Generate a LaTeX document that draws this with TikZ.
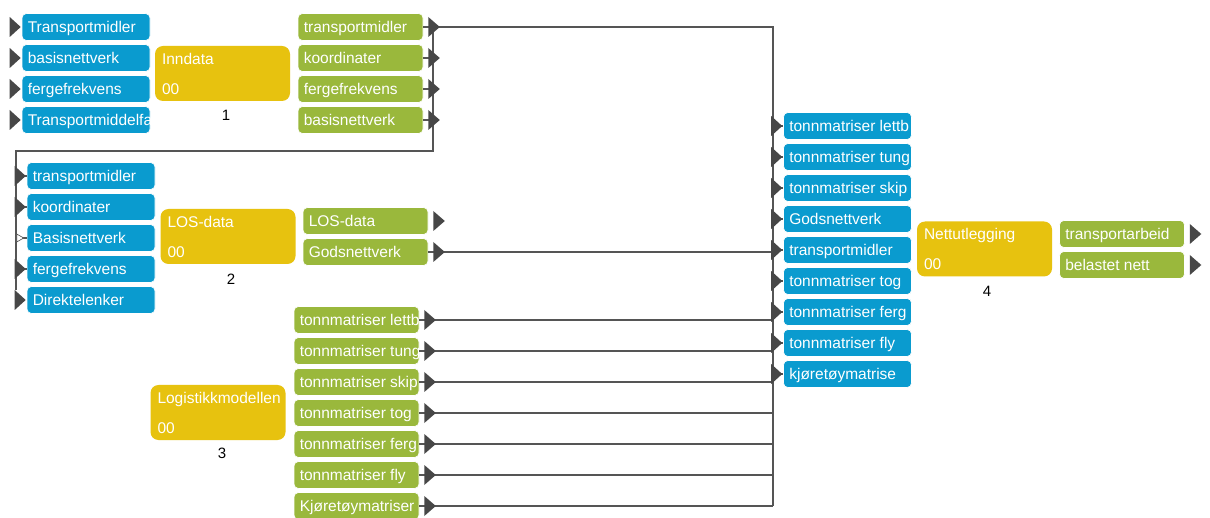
\documentclass[tikz,border=0pt]{standalone}
\usepackage{fontspec}
\setmainfont{Liberation Sans}
\definecolor{pblue}{HTML}{0A9BCF}
\definecolor{pgreen}{HTML}{9AB83C}
\definecolor{pyellow}{HTML}{E7C20F}
\definecolor{tgray}{HTML}{474747}
\definecolor{wgray}{HTML}{555555}
\tikzset{
 port/.style={rounded corners=4.5pt, minimum height=27pt, inner sep=0pt, draw=white, line width=0.6pt},
 bport/.style={port, fill=pblue, minimum width=128pt},
 gport/.style={port, fill=pgreen, minimum width=125pt},
 lbl/.style={text=white, font=\fontsize{15.5}{15.5}\selectfont, inner sep=0pt, draw=none, fill=none, minimum width=0pt, minimum height=0pt, rounded corners=0pt},
 proc/.style={fill=pyellow, rounded corners=8pt, minimum width=135pt, minimum height=55pt, text width=121pt, inner xsep=7pt, inner ysep=0pt, align=left, text=white, font=\fontsize{15.5}{30}\selectfont},
 num/.style={font=\fontsize{15}{15}\selectfont, text=black, inner sep=0pt},
 wire/.style={draw=wgray, line width=1.3pt},
 tri/.style={fill=tgray},
}
\newcommand\pbox[5]{\node[#4, path picture={\node[lbl, anchor=base west] at ([xshift=5.5pt,yshift=-5.4pt]path picture bounding box.west) {#5};}] (#1) at (#2,#3) {};}
\newcommand\intri[1]{\fill[tri] ([xshift=-12pt,yshift=10pt]#1.west) -- ([xshift=-1pt]#1.west) -- ([xshift=-12pt,yshift=-10pt]#1.west) -- cycle;}
\newcommand\outtri[1]{\fill[tri] ([xshift=5pt,yshift=10pt]#1.east) -- ([xshift=16.5pt]#1.east) -- ([xshift=5pt,yshift=-10pt]#1.east) -- cycle;}
\begin{document}
\begin{tikzpicture}[x=1pt,y=-1pt]
\useasboundingbox (0,0) rectangle (1210,518);
\fill[white] (0,0) rectangle (1210,518);
% ---------- module 1
\pbox{i1a}{86}{27}{bport}{Transportmidler}
\pbox{i1b}{86}{58}{bport}{basisnettverk}
\pbox{i1c}{86}{89}{bport}{fergefrekvens}
\pbox{i1d}{86}{120}{bport}{Transportmiddelfa}
\node[proc] (p1) at (222.5,73.5) {Inndata\\00};
\node[num] (n1) at (226,115) {1};
\pbox{o1a}{360.5}{27}{gport}{transportmidler}
\pbox{o1b}{360.5}{58}{gport}{koordinater}
\pbox{o1c}{360.5}{89}{gport}{fergefrekvens}
\pbox{o1d}{360.5}{120}{gport}{basisnettverk}
% ---------- module 2
\pbox{i2a}{91}{176}{bport}{transportmidler}
\pbox{i2b}{91}{207}{bport}{koordinater}
\pbox{i2c}{91}{238}{bport}{Basisnettverk}
\pbox{i2d}{91}{269}{bport}{fergefrekvens}
\pbox{i2e}{91}{300}{bport}{Direktelenker}
\node[proc] (p2) at (228,236.5) {LOS-data\\00};
\node[num] (n2) at (231,279) {2};
\pbox{o2a}{365.5}{221}{gport}{LOS-data}
\pbox{o2b}{365.5}{252}{gport}{Godsnettverk}
% ---------- module 3
\node[proc] (p3) at (218,412.5) {Logistikkmodellen\\00};
\node[num] (n3) at (222,453) {3};
\pbox{o3a}{356.5}{320}{gport}{tonnmatriser lettb}
\pbox{o3b}{356.5}{351}{gport}{tonnmatriser tung}
\pbox{o3c}{356.5}{382}{gport}{tonnmatriser skip}
\pbox{o3d}{356.5}{413}{gport}{tonnmatriser tog}
\pbox{o3e}{356.5}{444}{gport}{tonnmatriser ferg}
\pbox{o3f}{356.5}{475}{gport}{tonnmatriser fly}
\pbox{o3g}{356.5}{506}{gport}{Kjøretøymatriser}
% ---------- module 4
\pbox{i4a}{847.5}{126}{bport}{tonnmatriser lettb}
\pbox{i4b}{847.5}{157}{bport}{tonnmatriser tung}
\pbox{i4c}{847.5}{188}{bport}{tonnmatriser skip}
\pbox{i4d}{847.5}{219}{bport}{Godsnettverk}
\pbox{i4e}{847.5}{250}{bport}{transportmidler}
\pbox{i4f}{847.5}{281}{bport}{tonnmatriser tog}
\pbox{i4g}{847.5}{312}{bport}{tonnmatriser ferg}
\pbox{i4h}{847.5}{343}{bport}{tonnmatriser fly}
\pbox{i4i}{847.5}{374}{bport}{kjøretøymatrise}
\node[proc] (p4) at (984.5,249) {Nettutlegging\\00};
\node[num] (n4) at (987,291) {4};
\pbox{o4a}{1122}{234}{gport}{transportarbeid}
\pbox{o4b}{1122}{265}{gport}{belastet nett}
% ---------- wires
\coordinate (B1) at (773,27);
\coordinate (B2) at (773,506);
\coordinate (C1) at (433,151);
\coordinate (C2) at (16,151);
\coordinate (C3) at (16,290);
\draw[wire] (o1a.east) -- (B1) -- (B2);
\draw[wire] (o1a.east -| C1) -- (C1) -- (C2) -- (C3);
\foreach \n in {o1b,o1c,o1d} \draw[wire] (\n.east) -- (\n.east -| C1);
\foreach \n in {i2a,i2b,i2c,i2d} \draw[wire] (C2 |- \n.west) -- (\n.west);
\draw[wire] (o2b.east) -- (o2b.east -| B1);
\foreach \n in {o3a,o3b,o3c,o3d,o3e,o3f,o3g} \draw[wire] (\n.east) -- (\n.east -| B1);
\foreach \n in {i4a,i4b,i4c,i4d,i4e,i4f,i4g,i4h,i4i} \draw[wire] (B1 |- \n.west) -- (\n.west);
% ---------- port triangles
\foreach \n in {i1a,i1b,i1c,i1d,i2a,i2b,i2d,i2e,i4a,i4b,i4c,i4d,i4e,i4f,i4g,i4h,i4i} {\intri{\n}}
\draw[tgray, fill=white, line width=0.6pt] ([xshift=-10pt,yshift=4pt]i2c.west) -- ([xshift=-3pt]i2c.west) -- ([xshift=-10pt,yshift=-4pt]i2c.west) -- cycle;
\foreach \n in {o1a,o1b,o1c,o1d,o2a,o2b,o3a,o3b,o3c,o3d,o3e,o3f,o3g,o4a,o4b} {\outtri{\n}}
\end{tikzpicture}
\end{document}
